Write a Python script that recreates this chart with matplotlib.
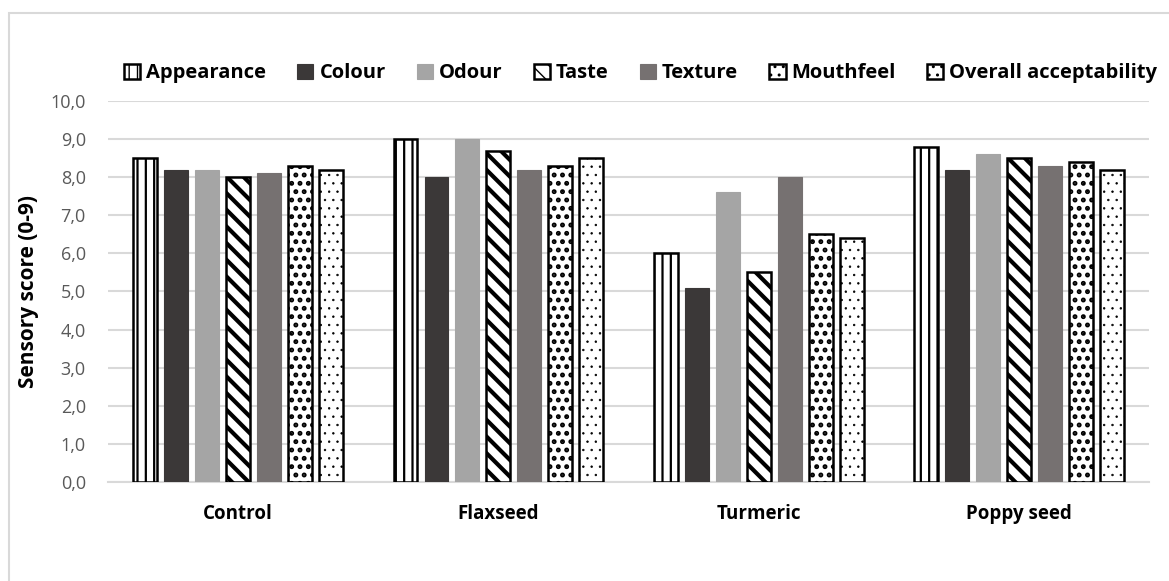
import numpy as np
import matplotlib as mpl
import matplotlib.pyplot as plt
from matplotlib.patches import Rectangle

# sensory scores per sample
samples = ["Control", "Flaxseed", "Turmeric", "Poppy seed"]
attributes = ["Appearance", "Colour", "Odour", "Taste", "Texture",
              "Mouthfeel", "Overall acceptability"]
appearance = [8.5, 9.0, 6.0, 8.8]
colour = [8.2, 8.0, 5.1, 8.2]
odour = [8.2, 9.0, 7.6, 8.6]
taste = [8.0, 8.7, 5.5, 8.5]
texture = [8.1, 8.2, 8.0, 8.3]
mouthfeel = [8.3, 8.3, 6.5, 8.4]
overall = [8.2, 8.5, 6.4, 8.2]
scores = [appearance, colour, odour, taste, texture, mouthfeel, overall]

# (face, edge, hatch, hatch linewidth)
styles = [
    ("white", "black", "||", 1.6),
    ("#3b3838", "#3b3838", None, 1.0),
    ("#a5a5a5", "#a5a5a5", None, 1.0),
    ("white", "black", "\\\\", 3.0),
    ("#767171", "#767171", None, 1.0),
    ("white", "black", "..", 2.3),
    ("white", "black", "..", 0.5),
]

plt.rcParams['font.family'] = ['Open Sans', 'DejaVu Sans']

fig = plt.figure(figsize=(11.69, 5.81), dpi=100)
ax = fig.add_axes([0.0924, 0.1704, 0.8906, 0.6558])

# chart area border, open to the right and bottom
fig.patches.append(Rectangle((9 / 1169, -1), 3, 2 - 13 / 581,
                             transform=fig.transFigure, fill=False,
                             edgecolor="#d9d9d9", linewidth=1.5, zorder=0))

x = np.arange(len(samples))
width = 0.092
step = 0.119
for i, (name, vals, st) in enumerate(zip(attributes, scores, styles)):
    face, edge, hatch, hlw = st
    with mpl.rc_context({'hatch.linewidth': hlw}):
        bars = ax.bar(x + (i - 3) * step, vals, width, label=name,
                      facecolor=face, edgecolor=edge, hatch=hatch,
                      linewidth=1.8 if hatch else 0.8, zorder=3)
        for b in bars:
            if hasattr(b, "set_hatch_linewidth"):
                b.set_hatch_linewidth(hlw)

ax.set_xlim(-0.5, len(samples) - 0.5)
ax.set_ylim(0, 10)
ax.set_yticks(np.arange(0, 10.01, 1.0))
ax.set_yticklabels([f"{v:.1f}".replace(".", ",") for v in np.arange(0, 10.01, 1.0)])
ax.set_xticks(x)
ax.set_xticklabels(samples, fontweight="bold", fontsize=13.5, color="black")
ax.tick_params(axis="x", length=0, pad=16)
ax.tick_params(axis="y", length=0, pad=16, labelsize=13, labelcolor="#595959")
ax.grid(axis="y", color="#d9d9d9", linewidth=1.5, zorder=0)
for s in ["top", "right", "left"]:
    ax.spines[s].set_visible(False)
ax.spines["bottom"].set_color("#d9d9d9")
ax.spines["bottom"].set_linewidth(1.5)

ax.set_ylabel("Sensory score (0-9)", fontweight="bold", fontsize=15,
              color="black", labelpad=8)

fig.legend(loc="center", bbox_to_anchor=(0.548, 0.874), ncol=7,
           frameon=False, handlelength=0.8, handleheight=0.8,
           handletextpad=0.3, columnspacing=1.55,
           prop={"weight": "bold", "size": 14.5})

fig.savefig("out.png", dpi=100)
